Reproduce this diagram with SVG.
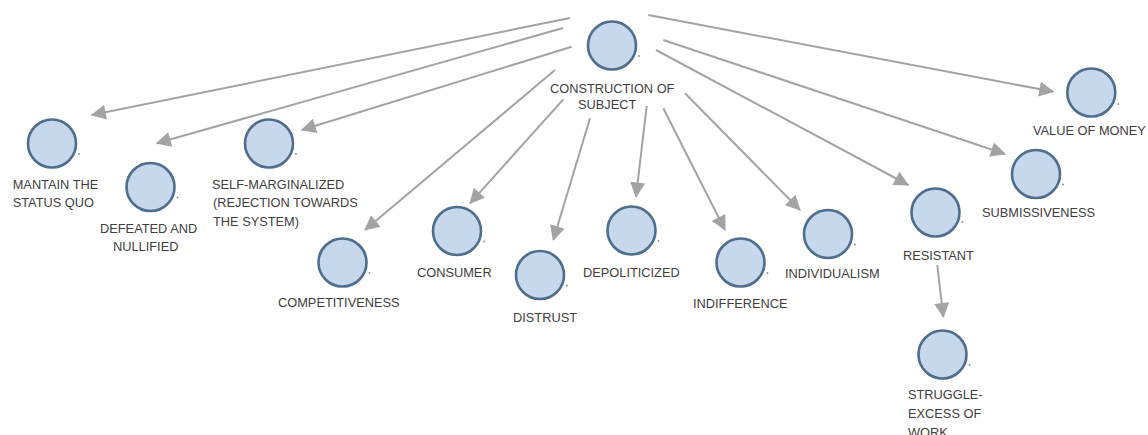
<svg xmlns="http://www.w3.org/2000/svg" width="1148" height="435" viewBox="0 0 1148 435">
<style>
.n circle.b{fill:#c7d7ec;stroke:#4f6d8c;stroke-width:2.6}
.n circle.d{fill:#7a8a9a;stroke:none}
.n text{font-family:"Liberation Sans",Arial,sans-serif;font-size:12.8px;fill:#404040}
.e line{stroke:#a3a3a3;stroke-width:2;marker-end:url(#ah)}
</style>
<defs>
<marker id="ah" viewBox="0 0 16 16" markerWidth="16" markerHeight="15" refX="15" refY="8" orient="auto" markerUnits="userSpaceOnUse">
<path d="M0,0 L16,8 L0,16 z" fill="#a3a3a3"/>
</marker>
</defs>
<rect width="1148" height="435" fill="#ffffff"/>
<g id="connectors" class="e">
<line x1="570" y1="18" x2="91.7" y2="115"/>
<line x1="563" y1="28" x2="156.7" y2="143.3"/>
<line x1="571.7" y1="46.7" x2="301.7" y2="130"/>
<line x1="555" y1="70" x2="365" y2="230"/>
<line x1="563.3" y1="99.3" x2="470" y2="203.3"/>
<line x1="590" y1="118.3" x2="553.3" y2="240"/>
<line x1="646.7" y1="106" x2="636" y2="196.7"/>
<line x1="663.3" y1="108.3" x2="725" y2="230"/>
<line x1="685" y1="93.3" x2="800" y2="210"/>
<line x1="656" y1="50" x2="908.3" y2="185"/>
<line x1="663.3" y1="40" x2="1005" y2="154"/>
<line x1="648.3" y1="15" x2="1053.3" y2="91.7"/>
<line x1="937.3" y1="265" x2="943.3" y2="317"/>
</g>
<g id="construction" class="n"><circle class="b" cx="612" cy="45.5" r="24"/><circle class="d" cx="639" cy="56" r="0.9"/><text x="550" y="93">CONSTRUCTION OF</text><text x="578" y="108.5">SUBJECT</text></g>
<g id="mantain" class="n"><circle class="b" cx="52" cy="143.5" r="24"/><circle class="d" cx="79" cy="154" r="0.9"/><text x="12.7" y="189">MANTAIN THE</text><text x="12.7" y="207">STATUS QUO</text></g>
<g id="defeated" class="n"><circle class="b" cx="150.5" cy="187" r="24"/><circle class="d" cx="177.5" cy="197.5" r="0.9"/><text x="100" y="233">DEFEATED AND</text><text x="113" y="251">NULLIFIED</text></g>
<g id="selfmarginalized" class="n"><circle class="b" cx="269" cy="143.5" r="24"/><circle class="d" cx="296" cy="154" r="0.9"/><text x="212" y="189">SELF-MARGINALIZED</text><text x="213" y="207">(REJECTION TOWARDS</text><text x="213" y="226">THE SYSTEM)</text></g>
<g id="competitiveness" class="n"><circle class="b" cx="342.5" cy="262.5" r="24"/><circle class="d" cx="369.5" cy="273" r="0.9"/><text x="278" y="307">COMPETITIVENESS</text></g>
<g id="consumer" class="n"><circle class="b" cx="457" cy="231" r="24"/><circle class="d" cx="484" cy="241.5" r="0.9"/><text x="417" y="277">CONSUMER</text></g>
<g id="distrust" class="n"><circle class="b" cx="540" cy="275" r="24"/><circle class="d" cx="567" cy="285.5" r="0.9"/><text x="513" y="322">DISTRUST</text></g>
<g id="depoliticized" class="n"><circle class="b" cx="631.5" cy="230.5" r="24"/><circle class="d" cx="658.5" cy="241" r="0.9"/><text x="583" y="277">DEPOLITICIZED</text></g>
<g id="indifference" class="n"><circle class="b" cx="740.5" cy="262.5" r="24"/><circle class="d" cx="767.5" cy="273" r="0.9"/><text x="693" y="308">INDIFFERENCE</text></g>
<g id="individualism" class="n"><circle class="b" cx="828" cy="234" r="24"/><circle class="d" cx="855" cy="244.5" r="0.9"/><text x="785" y="278">INDIVIDUALISM</text></g>
<g id="resistant" class="n"><circle class="b" cx="935.5" cy="212.5" r="24"/><circle class="d" cx="962.5" cy="222" r="0.9"/><text x="903" y="259.5">RESISTANT</text></g>
<g id="submissiveness" class="n"><circle class="b" cx="1036" cy="174" r="24"/><circle class="d" cx="1063" cy="184.5" r="0.9"/><text x="982" y="217">SUBMISSIVENESS</text></g>
<g id="valueofmoney" class="n"><circle class="b" cx="1091.3" cy="92.5" r="24"/><circle class="d" cx="1118.3" cy="104" r="0.9"/><text x="1033" y="135">VALUE OF MONEY</text></g>
<g id="struggle" class="n"><circle class="b" cx="942.5" cy="354.5" r="24"/><circle class="d" cx="969.5" cy="365" r="0.9"/><text x="908" y="399">STRUGGLE-</text><text x="908" y="418">EXCESS OF</text><text x="908" y="437">WORK</text></g>
</svg>
